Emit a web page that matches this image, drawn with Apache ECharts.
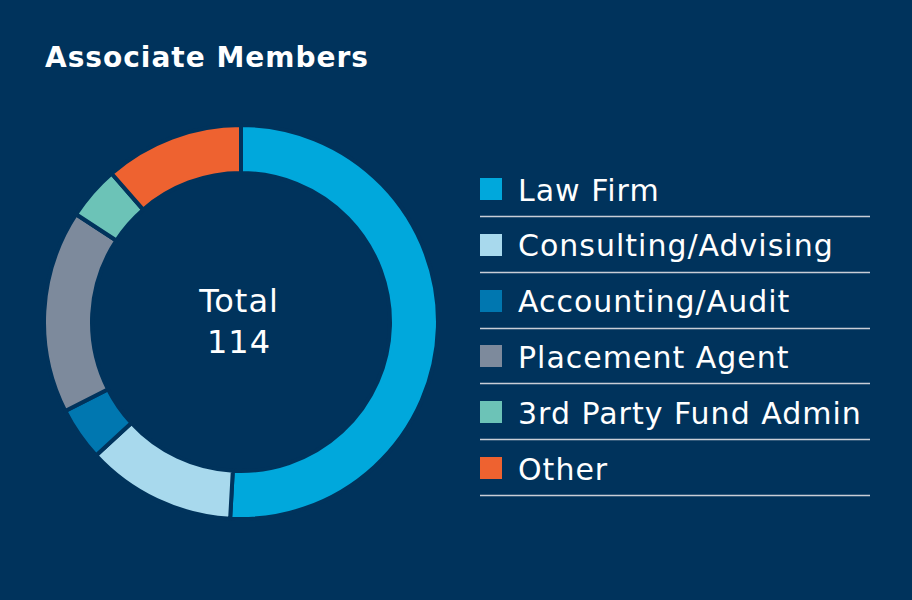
<!DOCTYPE html>
<html>
<head>
<meta charset="utf-8">
<script src="https://cdn.jsdelivr.net/npm/echarts@6/dist/echarts.min.js"></script>
<style>
  html, body { margin: 0; padding: 0; background: #00335c; }
  #memberChart { width: 912px; height: 600px; }
  /* the original type is loosely tracked */
  #memberChart text { letter-spacing: 1px; }
</style>
</head>
<body>
<div id="memberChart"></div>
<script>
  // member categories and counts
  var categories = ['Law Firm', 'Consulting/Advising', 'Accounting/Audit', 'Placement Agent', '3rd Party Fund Admin', 'Other'];
  var counts = [58, 14, 5, 19, 5, 13];
  var colorList = ['#00a8dc', '#a8d9ed', '#0077b0', '#7d8a9c', '#6cc3b7', '#ee6230'];

  var bg = '#00335c';
  var font = 'DejaVu Sans';
  var total = counts.reduce(function (a, b) { return a + b; }, 0);

  var pieData = categories.map(function (name, i) {
    return { name: name, value: counts[i], itemStyle: { color: colorList[i] } };
  });

  // legend drawn by hand: square, label and a rule under each row
  var rowTop = 189, rowStep = 55.8;
  var legendItems = [];
  categories.forEach(function (name, i) {
    var cy = rowTop + i * rowStep;
    var ly = Math.round(cy + 27) + 0.5;
    legendItems.push({
      type: 'rect',
      shape: { x: 480, y: Math.round(cy - 11), width: 22, height: 22 },
      style: { fill: colorList[i] }
    });
    legendItems.push({
      type: 'text',
      x: 518,
      y: cy + 1,
      style: { text: name, fill: '#ffffff', font: '30px "' + font + '"', verticalAlign: 'middle' }
    });
    legendItems.push({
      type: 'line',
      shape: { x1: 480, y1: ly, x2: 870, y2: ly },
      style: { stroke: '#c9ced6', lineWidth: 1.5 }
    });
  });

  // total in the middle of the ring
  legendItems.push({
    type: 'text',
    x: 239,
    y: 317,
    style: { text: 'Total', fill: '#ffffff', font: '32px "' + font + '"', align: 'center', verticalAlign: 'bottom' }
  });
  legendItems.push({
    type: 'text',
    x: 239,
    y: 358,
    style: { text: String(total), fill: '#ffffff', font: '32px "' + font + '"', align: 'center', verticalAlign: 'bottom' }
  });

  var myChart = echarts.init(document.getElementById('memberChart'), null, { renderer: 'svg' });
  var option = {
    backgroundColor: bg,
    animation: false,
    title: {
      text: 'Associate Members',
      left: 40,
      top: 38,
      textStyle: { color: '#ffffff', fontFamily: font, fontWeight: 'bold', fontSize: 28 }
    },
    graphic: legendItems,
    series: [
      {
        type: 'pie',
        center: [241, 322],
        radius: [149, 197],
        startAngle: 90,
        clockwise: true,
        label: { show: false },
        labelLine: { show: false },
        emphasis: { disabled: true },
        itemStyle: { borderColor: bg, borderWidth: 4 },
        data: pieData
      }
    ]
  };
  myChart.setOption(option);
</script>
</body>
</html>
